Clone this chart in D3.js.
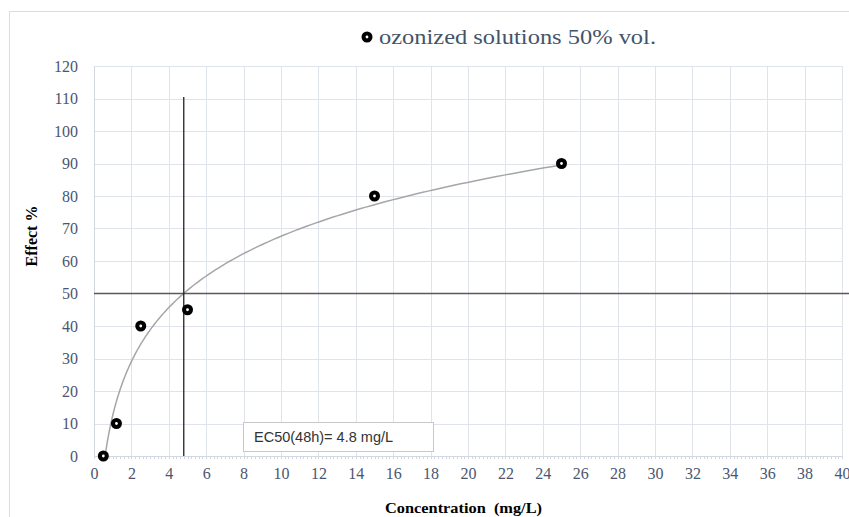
<!DOCTYPE html>
<html><head><meta charset="utf-8">
<script src="https://cdn.jsdelivr.net/npm/d3@7"></script>
<style>body{margin:0;background:#fff}svg{display:block}</style>
</head><body>
<script>
// data
const concentration = [0.5, 1.2, 2.5, 5, 15, 25];
const effect = [0, 10, 40, 45, 80, 90];
const seriesName = "ozonized solutions 50% vol.";
const ec50 = 4.8;
const ec50Label = "EC50(48h)= 4.8 mg/L";
const refEffect = 50;
const ec50LineTop = 110.5;
const xTicks = d3.range(0, 41, 2);
const yTicks = d3.range(0, 121, 10);
const xTitle = "Concentration  (mg/L)";
const yTitle = "Effect %";

const W = 849, H = 517;
const m = {l: 94, r: 7, t: 66, b: 61};
const svg = d3.select("body").append("svg").attr("width", W).attr("height", H);
const x = d3.scaleLinear().domain([0, 40]).range([m.l, W - m.r]);
const y = d3.scaleLinear().domain([0, 120]).range([H - m.b, m.t]);

// outer border
svg.append("path").attr("d", `M9.5,${H}V11.5H${W}`).attr("fill","none").attr("stroke","#d9dbe6").attr("stroke-width",1);

const grid = "#dfe3ec";
svg.append("g").selectAll("line").data(yTicks.filter(d=>d>0)).join("line")
  .attr("x1", x(0)).attr("x2", x(40)).attr("y1", d=>Math.round(y(d))+0.5).attr("y2", d=>Math.round(y(d))+0.5)
  .attr("stroke", grid).attr("stroke-width", 1);
svg.append("g").selectAll("line").data(xTicks.filter(d=>d>0)).join("line")
  .attr("x1", d=>Math.round(x(d))+0.5).attr("x2", d=>Math.round(x(d))+0.5).attr("y1", y(0)).attr("y2", y(120))
  .attr("stroke", grid).attr("stroke-width", 1);
svg.append("line").attr("x1", x(0)+0.5).attr("x2", x(0)+0.5).attr("y1", y(0)).attr("y2", y(120))
  .attr("stroke", "#d3d7e2");
svg.append("g").selectAll("line").data(d3.range(0, 40.001, 0.2)).join("line")
  .attr("x1", d=>Math.round(x(d))+0.5).attr("x2", d=>Math.round(x(d))+0.5).attr("y1", y(0)).attr("y2", y(0)+3)
  .attr("stroke", "#d3d7e2");
svg.append("line").attr("x1", x(0)).attr("x2", x(40)).attr("y1", Math.round(y(0))+0.5).attr("y2", Math.round(y(0))+0.5)
  .attr("stroke", "#d3d7e2");

// tick labels
const tickColor = "#4a5670";
const xAxis = d3.axisBottom(x).tickValues(xTicks).tickSize(0).tickPadding(12).tickFormat(d3.format("d"));
const gx = svg.append("g").attr("transform", `translate(0,${y(0)})`).call(xAxis);
gx.attr("font-family", null).attr("font-size", null);
gx.select(".domain").remove();
gx.selectAll("text").style("font-family","'Liberation Serif', 'Times New Roman', serif").style("font-size","16px").attr("fill", tickColor);
const yAxis = d3.axisLeft(y).tickValues(yTicks).tickSize(0).tickPadding(16).tickFormat(d3.format("d"));
const gy = svg.append("g").attr("transform", `translate(${x(0)},0)`).call(yAxis);
gy.attr("font-family", null).attr("font-size", null);
gy.select(".domain").remove();
gy.selectAll("text").style("font-family","'Liberation Serif', 'Times New Roman', serif").style("font-size","16px").attr("fill", tickColor);

// log trendline (least squares y = a ln x + b)
const lx = concentration.map(Math.log);
const mx = d3.mean(lx), my = d3.mean(effect);
const a = d3.sum(lx.map((v,i)=>(v-mx)*(effect[i]-my))) / d3.sum(lx.map(v=>(v-mx)**2));
const b = my - a*mx;
const xStart = Math.max(d3.min(concentration), Math.exp(-b/a));
const trend = d3.range(0, 201).map(i => {
  const xv = xStart * Math.pow(d3.max(concentration)/xStart, i/200);
  return [xv, a*Math.log(xv)+b];
});
svg.append("path").datum(trend)
  .attr("d", d3.line().x(d=>x(d[0])).y(d=>y(d[1])))
  .attr("fill","none").attr("stroke","#a6a6a6").attr("stroke-width",1.5);

// reference lines
svg.append("line").attr("x1", x(0)).attr("x2", W).attr("y1", y(refEffect)).attr("y2", y(refEffect))
  .attr("stroke","#5a5a5a").attr("stroke-width",1.5);
svg.append("line").attr("x1", x(ec50)).attr("x2", x(ec50)).attr("y1", y(0)).attr("y2", y(ec50LineTop))
  .attr("stroke","#222").attr("stroke-width",1.3);

// EC50 box
const bx = 243, by = 422, bw = 190, bh = 29;
svg.append("rect").attr("x", bx+0.5).attr("y", by+0.5).attr("width", bw).attr("height", bh)
  .attr("fill","#fff").attr("stroke","#c8c8c8");
svg.append("text").attr("x", bx+11).attr("y", by+20).text(ec50Label)
  .attr("font-family","'Liberation Sans', Arial, sans-serif").attr("font-size","14.5px").attr("fill","#333");

// markers
function marker(g, cx, cy){
  g.append("circle").attr("cx", cx).attr("cy", cy).attr("r", 5.5).attr("fill","#000");
  g.append("circle").attr("cx", cx).attr("cy", cy).attr("r", 1.4).attr("fill","#fff");
}
const pg = svg.append("g");
concentration.forEach((c,i)=>marker(pg, x(c), y(effect[i])));

// legend
const lg = svg.append("g");
marker(lg, 367, 37);
lg.append("text").attr("x", 379).attr("y", 44).text(seriesName)
  .attr("font-family","'Liberation Serif', serif").attr("font-size","22px").attr("fill","#44546a")
  .attr("textLength", 277).attr("lengthAdjust","spacingAndGlyphs");

// axis titles
svg.append("text").attr("x", 385).attr("y", 513).text(xTitle)
  .attr("font-family","'Liberation Serif', serif").attr("font-weight","bold").attr("font-size","15px").attr("fill","#000")
  .attr("textLength", 157).attr("lengthAdjust","spacingAndGlyphs")
  .attr("xml:space","preserve").style("white-space","pre");
svg.append("text").attr("transform","translate(37,236) rotate(-90)").attr("text-anchor","middle").text(yTitle)
  .attr("font-family","'Liberation Serif', serif").attr("font-weight","bold").attr("font-size","16px").attr("fill","#000");
</script>
</body></html>
